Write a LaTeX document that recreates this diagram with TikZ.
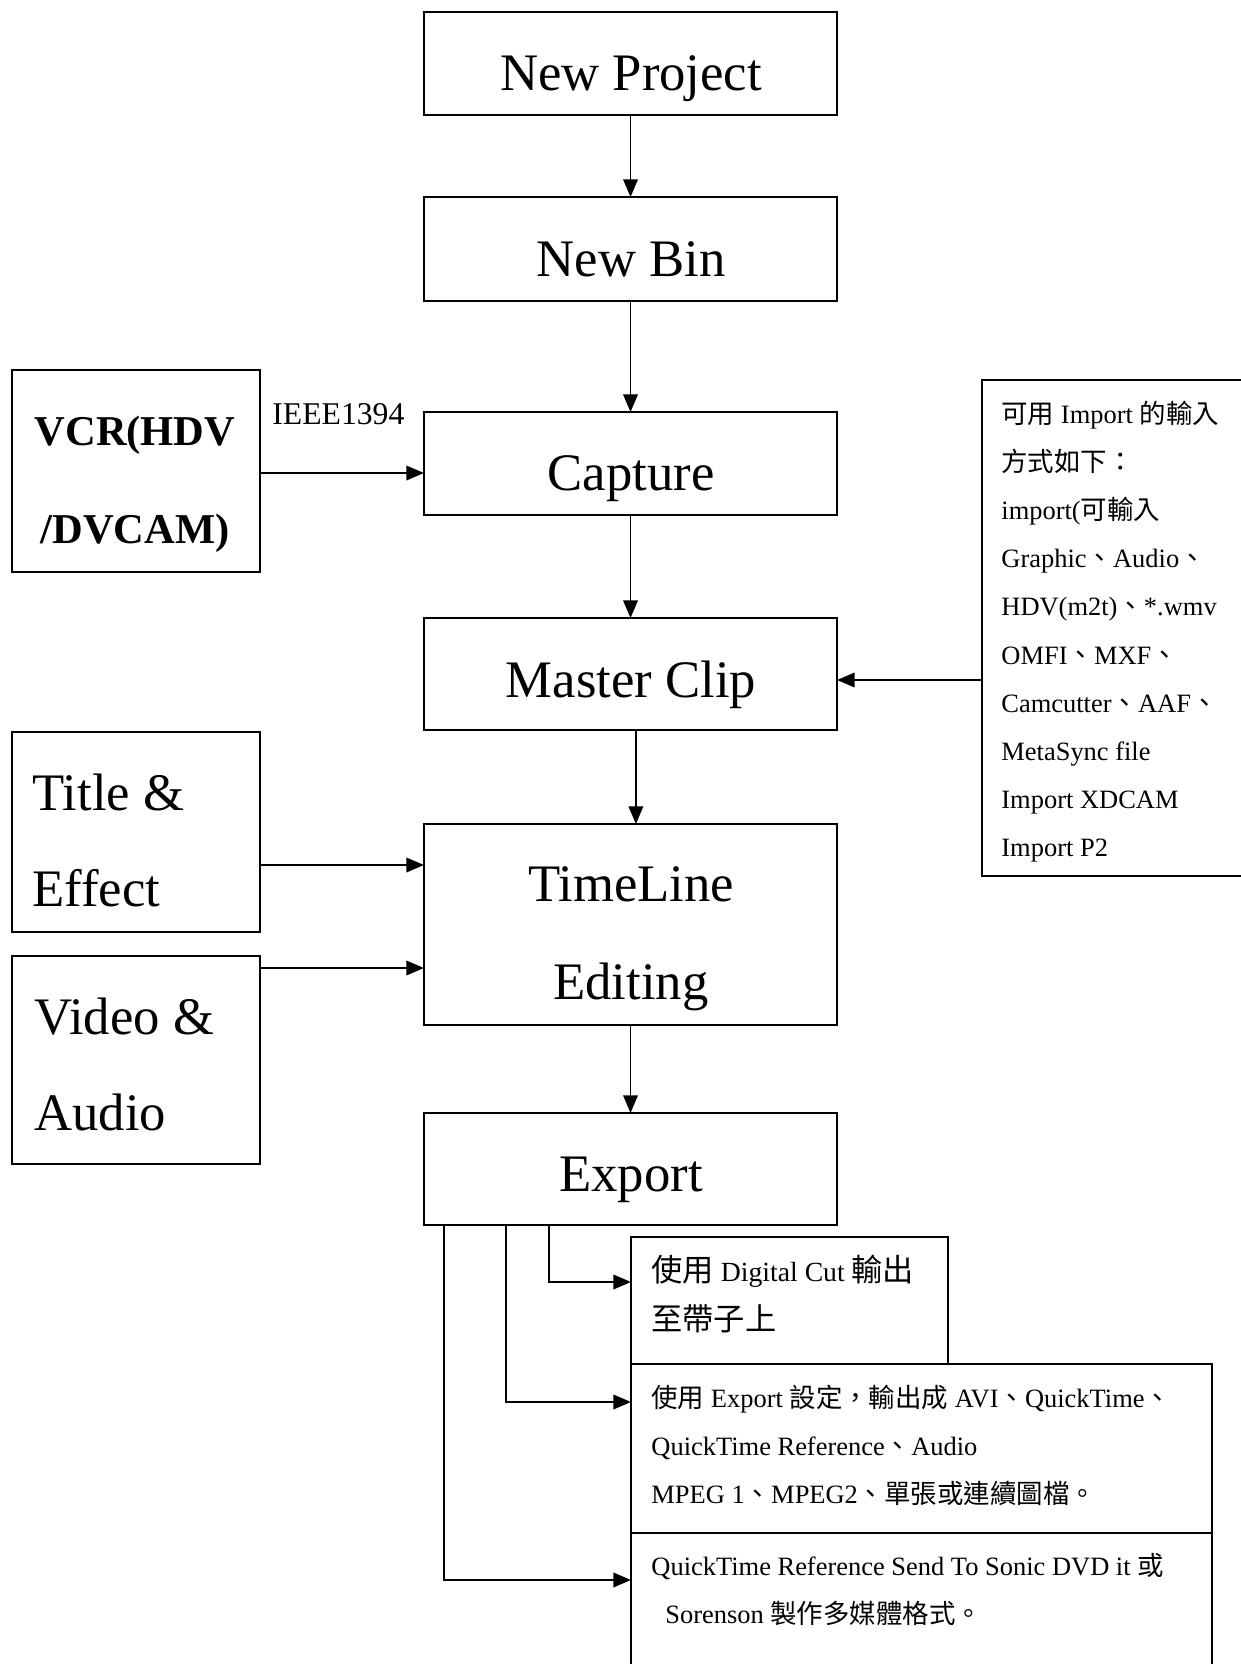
\documentclass[tikz,border=0pt]{standalone}
\usepackage{fontspec}
\setmainfont{Liberation Serif}
\newfontfamily\cjk{Noto Sans CJK TC}
\usetikzlibrary{arrows.meta}
\newcommand\mkbox[5]{\node[box, minimum width={(#4-#2)*0.48pt}, minimum height={(#5-#3)*0.48pt}] (#1) at ({(#2+#4)/2},{(#3+#5)/2}) {};}
\newcommand\dccjk[1]{{\cjk\fontsize{15}{18}\selectfont #1}}
\begin{document}
\begin{tikzpicture}[x=0.48pt,y=-0.48pt,
  box/.style={draw, line width=0.9pt, inner sep=0pt, outer sep=0pt},
  arr/.style={line width=0.9pt, -{Triangle[length=8.5pt,width=7pt]}},
  big/.style={inner sep=0pt, anchor=base, font=\fontsize{25.3}{30}\selectfont},
  bigl/.style={big, anchor=base west},
  vcrf/.style={inner sep=0pt, anchor=base, font=\fontsize{20.4}{24}\selectfont\bfseries},
  small/.style={inner sep=0pt, anchor=base west, font=\fontsize{12.7}{15}\selectfont},
  dcs/.style={inner sep=0pt, anchor=base west, font=\fontsize{13.3}{16}\selectfont},
]
\useasboundingbox (0,0) rectangle (1241,1664);
\clip (0,0) rectangle (1241,1664);
% boxes
\mkbox{np}{424}{12}{837}{115}
\mkbox{nb}{424}{197}{837}{301}
\mkbox{cap}{424}{412}{837}{515}
\mkbox{mc}{424}{618}{837}{730}
\mkbox{tl}{424}{824}{837}{1025}
\mkbox{ex}{424}{1113}{837}{1225}
\mkbox{vcr}{12}{370}{260}{572}
\mkbox{ti}{12}{732}{260}{932}
\mkbox{vid}{12}{956}{260}{1164}
\mkbox{imp}{982}{380}{1260}{876}
\mkbox{dc}{631}{1237}{948}{1364}
\mkbox{es}{631}{1364}{1212}{1533}
\mkbox{qt}{631}{1533}{1212}{1700}
% big texts
\node[big] (npt) at (631,90) {New Project};
\node[big] (nbt) at (631,276) {New Bin};
\node[big] (capt) at (631,490) {Capture};
\node[big] (mct) at (631,697) {Master Clip};
\node[big] (tlt1) at (631,901) {TimeLine};
\node[big] (tlt2) at (631,999) {Editing};
\node[big] (ext) at (631,1191) {Export};
\node[bigl] (tit1) at (32,810) {Title \&};
\node[bigl] (tit2) at (32,906) {Effect};
\node[bigl] (vidt1) at (34,1034) {Video \&};
\node[bigl] (vidt2) at (34,1130) {Audio};
\node[vcrf] (vcrt1) at (135,445) {VCR(HDV};
\node[vcrf] (vcrt2) at (135,543) {/DVCAM)};
\node[inner sep=0pt, anchor=base west, font=\fontsize{15.2}{18}\selectfont] (ieee) at (272,424) {IEEE1394};
% import list
\node[small] (i1) at (1001,423) {{\cjk 可用} Import {\cjk 的輸入}};
\node[small] (i2) at (1001,471.2) {{\cjk 方式如下：}};
\node[small] (i3) at (1001,519.4) {import({\cjk 可輸入}};
\node[small] (i4) at (1001,567.6) {Graphic{\cjk 、}Audio{\cjk 、}};
\node[small] (i5) at (1001,615.8) {HDV(m2t){\cjk 、}*.wmv};
\node[small] (i6) at (1001,664) {OMFI{\cjk 、}MXF{\cjk 、}};
\node[small] (i7) at (1001,712.2) {Camcutter{\cjk 、}AAF{\cjk 、}};
\node[small] (i8) at (1001,760.4) {MetaSync file};
\node[small] (i9) at (1001,808.6) {Import XDCAM};
\node[small] (i10) at (1001,856.8) {Import P2};
% export targets
\node[dcs] (d1) at (651,1281) {\dccjk{使用} Digital Cut \dccjk{輸出}};
\node[dcs] (d2) at (651,1330) {\dccjk{至帶子上}};
\node[small] (e1) at (651,1407) {{\cjk 使用} Export {\cjk 設定，輸出成} AVI{\cjk 、}QuickTime{\cjk 、}};
\node[small] (e2) at (651,1455) {QuickTime Reference{\cjk 、}Audio};
\node[small] (e3) at (651,1503) {MPEG 1{\cjk 、}MPEG2{\cjk 、單張或連續圖檔。}};
\node[small] (q1) at (651,1575) {QuickTime Reference Send To Sonic DVD it {\cjk 或}};
\node[small] (q2) at (665,1623) {Sorenson {\cjk 製作多媒體格式。}};
% connectors
\draw[arr] (np) -- (nb);
\draw[arr] (nb) -- (cap);
\draw[arr] (cap) -- (mc);
\draw[arr] ([xshift=2.6pt]mc.south) -- ([xshift=2.6pt]tl.north);
\draw[arr] (tl) -- (ex);
\draw[arr] (vcr.east |- 0,473) -- (cap.west |- 0,473);
\draw[arr] (imp.west |- 0,680) -- (mc.east |- 0,680);
\draw[arr] (ti.east |- 0,865) -- (tl.west |- 0,865);
\draw[arr] (vid.east |- 0,968) -- (tl.west |- 0,968);
\draw[arr] (ex.south -| 549,0) |- (dc.west |- 0,1282);
\draw[arr] (ex.south -| 506,0) |- (es.west |- 0,1402);
\draw[arr] (ex.south -| 444,0) |- (qt.west |- 0,1580);
\end{tikzpicture}
\end{document}
